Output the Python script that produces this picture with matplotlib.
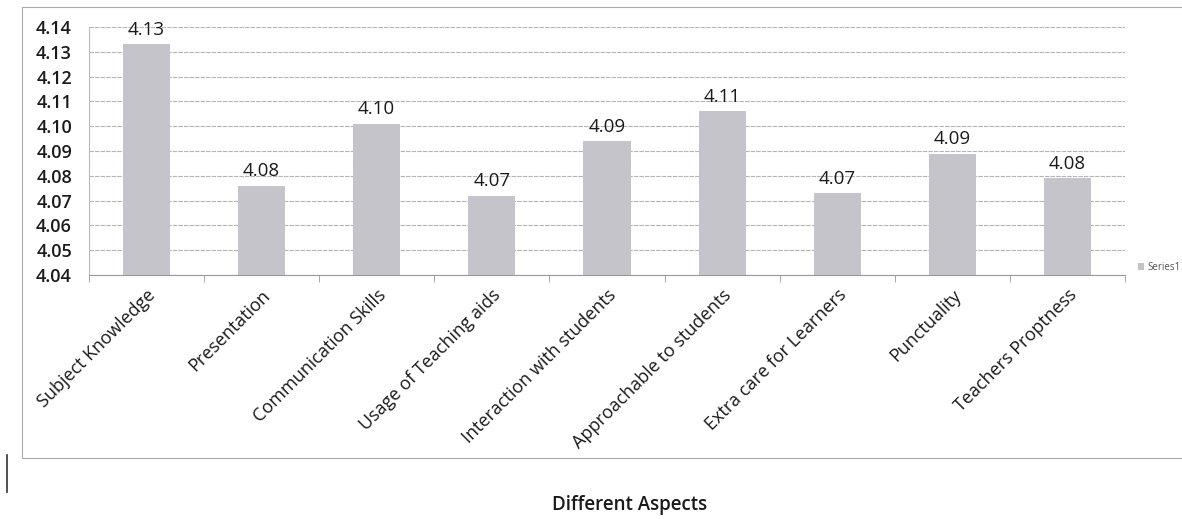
import numpy as np
import matplotlib.pyplot as plt
from matplotlib.patches import Rectangle

plt.rcParams['font.family'] = ['Open Sans', 'DejaVu Sans']

# data
aspects = ['Subject Knowledge', 'Presentation', 'Communication Skills',
           'Usage of Teaching aids', 'Interaction with students',
           'Approachable to students', 'Extra care for Learners',
           'Punctuality', 'Teachers Proptness']
scores = [4.133, 4.076, 4.101, 4.072, 4.094, 4.106, 4.073, 4.089, 4.079]
yticks = [4.04, 4.05, 4.06, 4.07, 4.08, 4.09, 4.10, 4.11, 4.12, 4.13, 4.14]

fig = plt.figure(figsize=(11.82, 5.19), dpi=100)
ax = fig.add_axes([0.075, 0.47, 0.877, 0.478])

x = np.arange(len(aspects))
bars = ax.bar(x, scores, width=0.41, color='#c6c4cb', zorder=2, label='Series1')
ax.bar_label(bars, fmt='%.2f', padding=4, fontsize=13.5, fontweight='medium', color='#1a1a1a')

ax.set_ylim(4.04, 4.14)
ax.set_yticks(yticks)
ax.set_yticklabels(['%.2f' % v for v in yticks], fontsize=13, fontweight='semibold', color='#1a1a1a')
ax.set_xlim(-0.5, len(aspects) - 0.5)
ax.set_xticks(x)
ax.set_xticklabels(aspects, rotation=45, ha='right', rotation_mode='anchor',
                   fontsize=13, color='#1a1a1a')
ax.tick_params(axis='x', length=0, pad=8)
ax.tick_params(axis='y', length=0, pad=12)
ax.set_xticks(np.arange(-0.5, len(aspects)), minor=True)
ax.tick_params(axis='x', which='minor', length=5, color='#999999')

ax.grid(axis='y', color='#b5b5b5', linewidth=0.8, linestyle=(0, (4, 1)), zorder=0)
for side in ['top', 'right']:
    ax.spines[side].set_visible(False)
ax.spines['left'].set_color('#bbbbbb')
ax.spines['bottom'].set_color('#999999')

# legend at the right edge, partly cut off like the scan
fig.legend(handles=[bars], labels=['Series1'], loc='center left',
           bbox_to_anchor=(0.955, 0.484), frameon=False, fontsize=7,
           handlelength=0.7, handleheight=0.7, handletextpad=0.3, labelcolor='#555555')

# outer chart frame
fig.patches.append(Rectangle((22 / 1182, 1 - 458 / 519), 1.2, (458 - 7) / 519,
                             transform=fig.transFigure, fill=False,
                             edgecolor='#aaaaaa', linewidth=0.8))
fig.add_artist(plt.Line2D([7 / 1182, 7 / 1182], [1 - 455 / 519, 1 - 492 / 519],
                          transform=fig.transFigure, color='#333333', linewidth=1.2))

fig.text(0.533, 1 - 505 / 519, 'Different Aspects', ha='center', va='center',
         fontsize=13.5, fontweight='semibold', color='#1a1a1a')

fig.savefig('out.png', dpi=100)
